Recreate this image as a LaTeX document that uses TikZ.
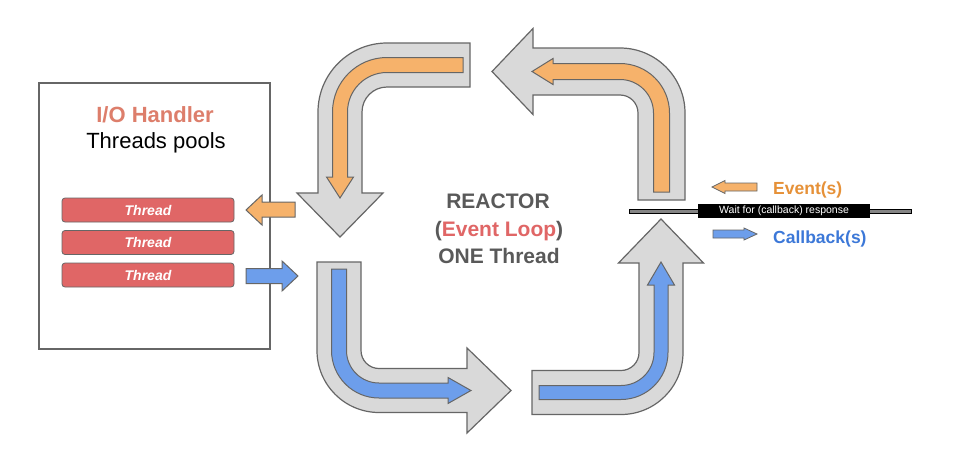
\documentclass[tikz,border=0pt]{standalone}
\usepackage{fontspec}
\setmainfont{Liberation Sans}
\definecolor{graybg}{HTML}{D9D9D9}
\definecolor{edge}{HTML}{666666}
\definecolor{orng}{HTML}{F6B26B}
\definecolor{blu}{HTML}{6D9EEB}
\definecolor{thr}{HTML}{E06666}
\definecolor{iored}{HTML}{DD7E6B}
\definecolor{evred}{HTML}{E06666}
\definecolor{rgray}{HTML}{595959}
\definecolor{evorange}{HTML}{E69138}
\definecolor{cbblue}{HTML}{3C78D8}
\tikzset{
  bigarrow/.style={fill=graybg, draw=edge, line width=1.2pt, line join=miter},
  orangearrow/.style={fill=orng, draw=edge, line width=1pt, line join=miter},
  bluearrow/.style={fill=blu, draw=edge, line width=1pt, line join=miter},
  threadbox/.style={fill=thr, draw=edge, line width=0.8pt, rounded corners=3pt,
    minimum width=172pt, minimum height=24pt, inner sep=0pt,
    text=white, font=\fontsize{14}{16}\selectfont\bfseries\itshape},
  centertext/.style={anchor=base, text=rgray, font=\fontsize{21}{24}\selectfont\bfseries},
}
\begin{document}
\begin{tikzpicture}[x=1pt,y=1pt,yscale=-1]
\useasboundingbox[fill=white] (0,0) rectangle (958,474);

% I/O handler box
\node[draw=edge, line width=2.2pt, minimum width=231pt, minimum height=266pt, inner sep=0pt] (iobox) at (154.5,216) {};
\node[anchor=base, text=iored, font=\fontsize{22}{26}\selectfont\bfseries] (iotitle) at (155,122) {I/O Handler};
\node[anchor=base, text=black, font=\fontsize{22}{26}\selectfont] (iosub) at (156,148) {Threads pools};
\node[threadbox] (t1) at (148,210) {Thread};
\node[threadbox] (t2) at (148,242.5) {Thread};
\node[threadbox] (t3) at (148,275) {Thread};

% small arrows near box
\path[orangearrow] (295,202) -- (262,202) -- (262,195) -- (246,210) -- (262,225) -- (262,217) -- (295,217) -- cycle;
\path[bluearrow] (246,268.5) -- (282,268.5) -- (282,261) -- (298,276) -- (282,291) -- (282,283.5) -- (246,283.5) -- cycle;

% top-left big arrow
\path[bigarrow] (470,43) -- (387,43) arc[start angle=270, end angle=180, radius=69]
  -- (318,193) -- (297,193) -- (340,237) -- (383,193) -- (362,193) -- (362,112)
  arc[start angle=180, end angle=270, radius=25] -- (470,87) -- cycle;
\path[orangearrow] (463,57.5) -- (387,57.5) arc[start angle=270, end angle=180, radius=54.5]
  -- (332.5,177) -- (326.5,177) -- (340,198) -- (353.5,177) -- (347.5,177) -- (347.5,112)
  arc[start angle=180, end angle=270, radius=39.5] -- (463,72.5) -- cycle;

% top-right big arrow
\path[bigarrow] (533,48) -- (620,48) arc[start angle=270, end angle=360, radius=65]
  -- (685,200) -- (638,200) -- (638,113) arc[start angle=0, end angle=-90, radius=18]
  -- (533,95) -- (533,114.5) -- (492,71.5) -- (533,28.5) -- cycle;
\path[orangearrow] (553,63.5) -- (620,63.5) arc[start angle=270, end angle=360, radius=49.5]
  -- (669.5,192) -- (653.5,192) -- (653.5,113) arc[start angle=0, end angle=-90, radius=33.5]
  -- (553,79.5) -- (553,84.5) -- (532,71.5) -- (553,58.5) -- cycle;

% bottom-left big arrow
\path[bigarrow] (317,262) -- (317,350.5) arc[start angle=180, end angle=90, radius=62]
  -- (467,412.5) -- (467,433) -- (511,390.5) -- (467,348) -- (467,368.5) -- (379,368.5)
  arc[start angle=90, end angle=180, radius=18] -- (361,262) -- cycle;
\path[bluearrow] (331.5,269) -- (331.5,350.5) arc[start angle=180, end angle=90, radius=47.5]
  -- (448,398) -- (448,403.5) -- (471,390.5) -- (448,377.5) -- (448,383) -- (379,383)
  arc[start angle=90, end angle=180, radius=32.5] -- (346.5,269) -- cycle;

% bottom-right big arrow
\path[bigarrow] (532,370.5) -- (621,370.5) arc[start angle=90, end angle=0, radius=18]
  -- (639,263) -- (618.5,263) -- (661,219) -- (703.5,263) -- (683,263) -- (683,352.5)
  arc[start angle=0, end angle=90, radius=62] -- (532,414.5) -- cycle;
\path[bluearrow] (539,385.5) -- (621,385.5) arc[start angle=90, end angle=0, radius=33]
  -- (654,285) -- (647.5,285) -- (661,262) -- (674.5,285) -- (668,285) -- (668,352.5)
  arc[start angle=0, end angle=90, radius=47] -- (539,399.5) -- cycle;

% center text
\node[centertext] (r1) at (498,208) {REACTOR};
\node[centertext] (r2) at (499,236) {(\textcolor{evred}{Event Loop})};
\node[centertext] (r3) at (499,263) {ONE Thread};

% timeline
\node[fill=edge!80, draw=black, line width=0.8pt, minimum width=282pt, minimum height=4pt, inner sep=0pt] (tline) at (770,211) {};
\node[fill=black, minimum width=172pt, minimum height=13.5pt, inner sep=0pt, text=white,
  font=\fontsize{10.5}{12}\selectfont] (wait) at (784,210.8) {Wait for (callback) response};

% right small arrows + labels
\path[orangearrow, line width=0.8pt] (757,183) -- (725,183) -- (725,180.5) -- (712,187) -- (725,193.5) -- (725,191) -- (757,191) -- cycle;
\path[bluearrow, line width=0.8pt] (713,230) -- (744,230) -- (744,228) -- (757,234) -- (744,240) -- (744,238) -- (713,238) -- cycle;
\node[anchor=base west, inner sep=0pt, text=evorange, font=\fontsize{17.5}{20}\selectfont\bfseries] (ev) at (773,194) {Event(s)};
\node[anchor=base west, inner sep=0pt, text=cbblue, font=\fontsize{17.5}{20}\selectfont\bfseries] (cb) at (773,243) {Callback(s)};
\end{tikzpicture}
\end{document}
